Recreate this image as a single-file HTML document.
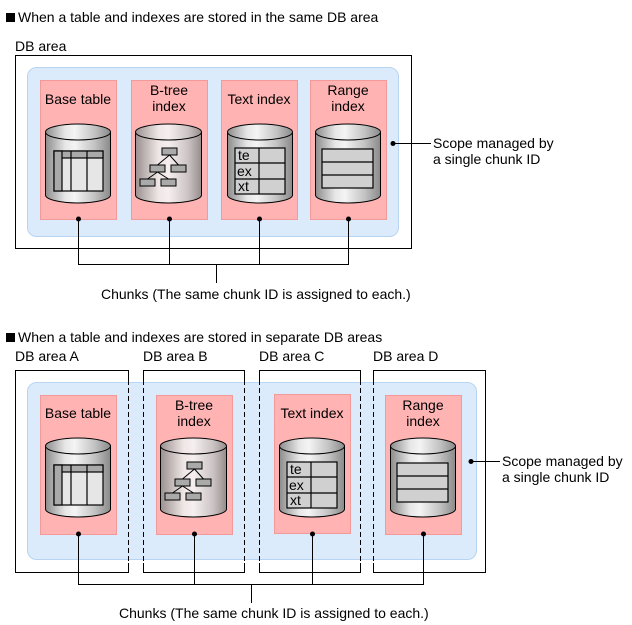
<!DOCTYPE html>
<html><head><meta charset="utf-8"><style>
html,body{margin:0;padding:0;background:#fff}
svg{display:block}
text{font-family:"Liberation Sans",Arial,sans-serif;font-size:14px;fill:#000}
</style></head><body>
<svg width="632" height="625" viewBox="0 0 632 625" xmlns="http://www.w3.org/2000/svg">
<defs>
<linearGradient id="cg" x1="0" x2="1" y1="0" y2="0">
<stop offset="0" stop-color="#8c8c8c"/><stop offset="0.3" stop-color="#e6e6e6"/><stop offset="0.45" stop-color="#f4f4f4"/><stop offset="0.75" stop-color="#c4c4c4"/><stop offset="1" stop-color="#8a8a8a"/>
</linearGradient>
<linearGradient id="cgp" x1="0" x2="1" y1="0" y2="0">
<stop offset="0" stop-color="#9a9090"/><stop offset="0.35" stop-color="#efe6e6"/><stop offset="0.5" stop-color="#f6efef"/><stop offset="0.8" stop-color="#cbc3c3"/><stop offset="1" stop-color="#958c8c"/>
</linearGradient>
<g id="cyl">
<path d="M0.5,8 L0.5,71 A32.5,8 0 0 0 65.5,71 L65.5,8 Z" fill="url(#cg)" stroke="#000" stroke-width="1"/>
<ellipse cx="33" cy="8" rx="32.5" ry="8" fill="url(#cg)" stroke="#000" stroke-width="1"/>
</g>
<g id="cylp">
<path d="M0.5,8 L0.5,71 A33,8 0 0 0 66.5,71 L66.5,8 Z" fill="url(#cgp)" stroke="#000" stroke-width="1"/>
<ellipse cx="33.5" cy="8" rx="33" ry="8" fill="url(#cgp)" stroke="#000" stroke-width="1"/>
</g>
<g id="ibase">
<use href="#cyl"/>
<rect x="9" y="27" width="49" height="40" fill="#e6e6e6" stroke="#000" stroke-width="1.2"/>
<rect x="9" y="27" width="49" height="7" fill="#aaa" stroke="#000" stroke-width="1.2"/>
<rect x="9" y="27" width="8" height="40" fill="#aaa" stroke="#000" stroke-width="1.2"/>
<line x1="26" y1="27" x2="26" y2="67" stroke="#000" stroke-width="1.2"/>
<line x1="42" y1="27" x2="42" y2="67" stroke="#000" stroke-width="1.2"/>
</g>
<g id="ibtree">
<use href="#cylp"/>
<g fill="#aaa" stroke="#000" stroke-width="1">
<rect x="27" y="24" width="15" height="7"/><rect x="15" y="41" width="15" height="7"/><rect x="36" y="41" width="15" height="7"/><rect x="5" y="55" width="15" height="7"/><rect x="26" y="55" width="15" height="7"/>
</g>
<path d="M34.5,31 L22.5,41 M34.5,31 L43.5,41 M22.5,48 L12.5,55 M22.5,48 L33.5,55" stroke="#000" fill="none"/>
</g>
<g id="itext">
<use href="#cyl"/>
<rect x="8" y="24" width="50" height="46" fill="#d0d0d0" stroke="#000" stroke-width="1.2"/>
<line x1="8" y1="39" x2="58" y2="39" stroke="#000" stroke-width="1.2"/>
<line x1="8" y1="55" x2="58" y2="55" stroke="#000" stroke-width="1.2"/>
<line x1="32" y1="24" x2="32" y2="70" stroke="#000" stroke-width="1.2"/>
<text x="11" y="36">te</text><text x="10" y="52">ex</text><text x="11" y="67">xt</text>
</g>
<g id="irange">
<use href="#cyl"/>
<rect x="7" y="25" width="51" height="39" fill="#d0d0d0" stroke="#000" stroke-width="1.2"/>
<line x1="7" y1="38" x2="58" y2="38" stroke="#000" stroke-width="1.2"/>
<line x1="7" y1="51" x2="58" y2="51" stroke="#000" stroke-width="1.2"/>
</g>
</defs>

<rect x="6" y="13" width="9" height="9" fill="#000"/>
<text x="18" y="22">When a table and indexes are stored in the same DB area</text>
<text x="15" y="51">DB area</text>
<rect x="15.5" y="55.5" width="396" height="193" fill="#fff" stroke="#000"/>
<rect x="27.5" y="67.5" width="371" height="169" rx="9" fill="#dbebfb" stroke="#b7d5f3"/>
<g fill="#ffb3b3" stroke="#f29a9a">
<rect x="40.5" y="80.5" width="76" height="139"/>
<rect x="131.5" y="80.5" width="76" height="139"/>
<rect x="221.5" y="80.5" width="76" height="139"/>
<rect x="310.5" y="80.5" width="76" height="139"/>
</g>
<text x="78" y="104" text-anchor="middle">Base table</text>
<text x="169" y="95" text-anchor="middle">B-tree</text><text x="169" y="111" text-anchor="middle">index</text>
<text x="259" y="104" text-anchor="middle">Text index</text>
<text x="348" y="95" text-anchor="middle">Range</text><text x="348" y="111" text-anchor="middle">index</text>
<use href="#ibase" x="45" y="124"/>
<use href="#ibtree" x="135" y="124"/>
<use href="#itext" x="227" y="124"/>
<use href="#irange" x="315" y="124"/>
<g stroke="#000" fill="none">
<path d="M78.5,219 V264.5 H348.5 V219 M169.5,219 V264.5 M259.5,219 V264.5 M216.5,264.5 V283"/>
<path d="M393,143.5 H431"/>
</g>
<g fill="#000"><circle cx="78.5" cy="219" r="2.5"/><circle cx="169.5" cy="219" r="2.5"/><circle cx="259.5" cy="219" r="2.5"/><circle cx="348.5" cy="219" r="2.5"/><circle cx="393" cy="143.5" r="2.5"/></g>
<text x="433" y="148">Scope managed by</text>
<text x="433" y="164">a single chunk ID</text>
<text x="101" y="299">Chunks (The same chunk ID is assigned to each.)</text>

<rect x="6" y="333" width="9" height="9" fill="#000"/>
<text x="18" y="342">When a table and indexes are stored in separate DB areas</text>
<text x="15" y="361">DB area A</text>
<text x="143" y="361">DB area B</text>
<text x="259" y="361">DB area C</text>
<text x="373" y="361">DB area D</text>
<g fill="none" stroke="#000">
<path d="M128.5,380 V370.5 H15.5 V572.5 H128.5 V563"/>
<path d="M143.5,380 V370.5 H244.5 V380 M143.5,563 V572.5 H244.5 V563"/>
<path d="M259.5,380 V370.5 H360.5 V380 M259.5,563 V572.5 H360.5 V563"/>
<path d="M373.5,380 V370.5 H485.5 V572.5 H373.5 V563"/>
</g>
<rect x="27.5" y="382.5" width="449" height="177" rx="9" fill="#dbebfb" stroke="#b7d5f3"/>
<g fill="none" stroke="#000" stroke-dasharray="5,3">
<path d="M128.5,380 V563 M143.5,380 V563 M244.5,380 V563 M259.5,380 V563 M360.5,380 V563 M373.5,380 V563"/>
</g>
<g fill="#ffb3b3" stroke="#f29a9a">
<rect x="40.5" y="395.5" width="76" height="139"/>
<rect x="156.5" y="395.5" width="76" height="139"/>
<rect x="274.5" y="394.5" width="76" height="139"/>
<rect x="385.5" y="395.5" width="76" height="139"/>
</g>
<text x="78" y="418" text-anchor="middle">Base table</text>
<text x="194" y="410" text-anchor="middle">B-tree</text><text x="194" y="426" text-anchor="middle">index</text>
<text x="312" y="418" text-anchor="middle">Text index</text>
<text x="423" y="410" text-anchor="middle">Range</text><text x="423" y="426" text-anchor="middle">index</text>
<use href="#ibase" x="45" y="438"/>
<use href="#ibtree" x="160" y="438"/>
<use href="#itext" x="279" y="438"/>
<use href="#irange" x="390" y="438"/>
<g stroke="#000" fill="none">
<path d="M78.5,534 V584.5 H423.5 V534 M194.5,534 V584.5 M312.5,534 V584.5 M251.5,584.5 V603"/>
<path d="M471,461.5 H500"/>
</g>
<g fill="#000"><circle cx="78.5" cy="534" r="2.5"/><circle cx="194.5" cy="534" r="2.5"/><circle cx="312.5" cy="534" r="2.5"/><circle cx="423.5" cy="534" r="2.5"/><circle cx="471" cy="461.5" r="2.5"/></g>
<text x="502" y="466">Scope managed by</text>
<text x="502" y="482">a single chunk ID</text>
<text x="119" y="618">Chunks (The same chunk ID is assigned to each.)</text>
</svg>
</body></html>
